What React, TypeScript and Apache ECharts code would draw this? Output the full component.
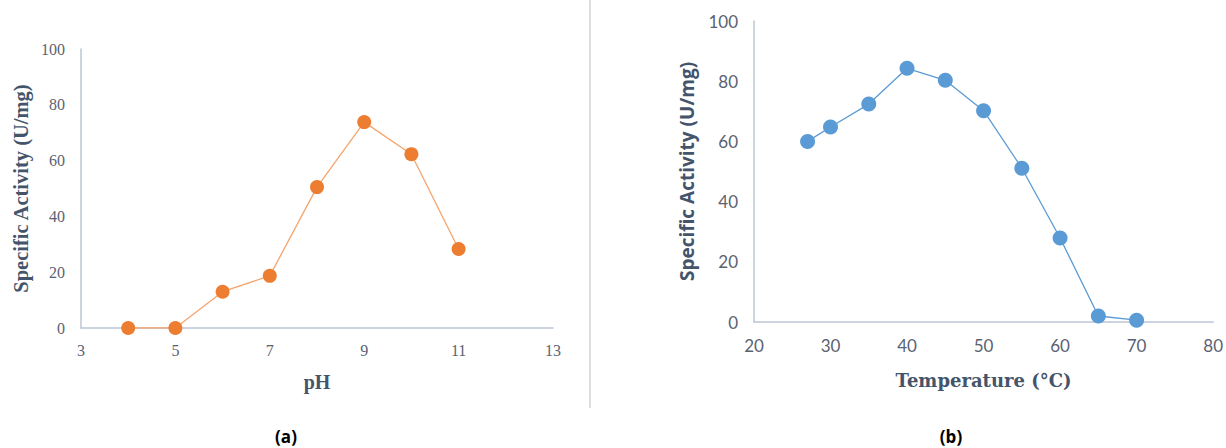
import React, { useEffect, useRef } from "react";
import * as echarts from "echarts";

const phValues = [4, 5, 6, 7, 8, 9, 10, 11];
const phActivity = [0, 0, 13, 18.7, 50.5, 73.8, 62.3, 28.3];

const tempValues = [27, 30, 35, 40, 45, 50, 55, 60, 65, 70];
const tempActivity = [60, 64.8, 72.4, 84.3, 80.3, 70.2, 51.1, 27.9, 2, 0.6];

const yTitle = "Specific Activity (U/mg)";
const xTitleA = "pH";
const xTitleB = "Temperature (°C)";
const panelLabels = ["(a)", "(b)"];

const tickColor = "#5a6272";
const titleColor = "#44546A";
const axisColor = "#BCC6D6";

export default function App() {
  const ref = useRef<HTMLDivElement>(null);
  useEffect(() => {
    if (!ref.current) return;
    const chart = echarts.init(ref.current, undefined, { renderer: "svg" });
    const serif = "'Liberation Serif', 'DejaVu Serif', serif";
    const sans = "Lato, 'Open Sans', sans-serif";
    chart.setOption({
      animation: false,
      backgroundColor: "#ffffff",
      grid: [
        { left: 81, top: 49, width: 472, height: 279 },
        { left: 754, top: 21, width: 462, height: 301 },
      ],
      xAxis: [
        {
          gridIndex: 0,
          type: "value",
          min: 3,
          max: 13,
          interval: 2,
          name: xTitleA,
          nameLocation: "middle",
          nameGap: 44,
          nameTextStyle: { fontFamily: serif, fontWeight: "bold", fontSize: 20, color: titleColor, verticalAlign: "top" },
          axisLine: { show: true, lineStyle: { color: axisColor, width: 1.5 } },
          axisTick: { show: false },
          splitLine: { show: false },
          axisLabel: { fontFamily: serif, fontSize: 16, color: tickColor, margin: 14 },
        },
        {
          gridIndex: 1,
          type: "value",
          min: 20,
          max: 80,
          interval: 10,
          name: xTitleB,
          nameLocation: "middle",
          nameGap: 49,
          nameTextStyle: { fontFamily: "'DejaVu Serif', serif", fontWeight: "bold", fontSize: 18, color: titleColor, verticalAlign: "top" },
          axisLine: { show: true, lineStyle: { color: axisColor, width: 1.5 } },
          axisTick: { show: false },
          splitLine: { show: false },
          axisLabel: { fontFamily: sans, fontSize: 17, color: tickColor, margin: 15 },
        },
      ],
      yAxis: [
        {
          gridIndex: 0,
          type: "value",
          min: 0,
          max: 100,
          interval: 20,
          name: yTitle,
          nameLocation: "middle",
          nameRotate: 90,
          nameGap: 50,
          nameTextStyle: { fontFamily: serif, fontWeight: "bold", fontSize: 20.5, color: titleColor },
          axisLine: { show: true, lineStyle: { color: axisColor, width: 1.5 } },
          axisTick: { show: false },
          splitLine: { show: false },
          axisLabel: { fontFamily: serif, fontSize: 16, color: tickColor, margin: 16 },
        },
        {
          gridIndex: 1,
          type: "value",
          min: 0,
          max: 100,
          interval: 20,
          name: yTitle,
          nameLocation: "middle",
          nameRotate: 90,
          nameGap: 58,
          nameTextStyle: { fontFamily: "'Open Sans', sans-serif", fontWeight: "bold", fontSize: 19, color: titleColor },
          axisLine: { show: true, lineStyle: { color: axisColor, width: 1.5 } },
          axisTick: { show: false },
          splitLine: { show: false },
          axisLabel: { fontFamily: sans, fontSize: 17, color: tickColor, margin: 16 },
        },
      ],
      series: [
        {
          type: "line",
          xAxisIndex: 0,
          yAxisIndex: 0,
          data: phValues.map((v, i) => [v, phActivity[i]]),
          symbol: "circle",
          symbolSize: 14,
          itemStyle: { color: "#ED7D31" },
          lineStyle: { color: "#F4A46C", width: 1.3 },
        },
        {
          type: "line",
          xAxisIndex: 1,
          yAxisIndex: 1,
          data: tempValues.map((v, i) => [v, tempActivity[i]]),
          symbol: "circle",
          symbolSize: 15,
          itemStyle: { color: "#5B9BD5" },
          lineStyle: { color: "#5B9BD5", width: 1.3 },
        },
      ],
      graphic: [
        { type: "line", shape: { x1: 590, y1: 0, x2: 590, y2: 408 }, style: { stroke: "#c8c8c8", lineWidth: 1.2 } },
        {
          type: "text",
          x: 286,
          y: 436,
          style: { text: panelLabels[0], fontFamily: "'Open Sans', sans-serif", fontWeight: "bold", fontSize: 17, fill: "#000", align: "center", verticalAlign: "middle" },
        },
        {
          type: "text",
          x: 951,
          y: 436,
          style: { text: panelLabels[1], fontFamily: "'Open Sans', sans-serif", fontWeight: "bold", fontSize: 17, fill: "#000", align: "center", verticalAlign: "middle" },
        },
      ],
    });
    return () => chart.dispose();
  }, []);
  return <div ref={ref} style={{ position: "fixed", left: 0, top: 0, width: 1226, height: 448 }} />;
}
